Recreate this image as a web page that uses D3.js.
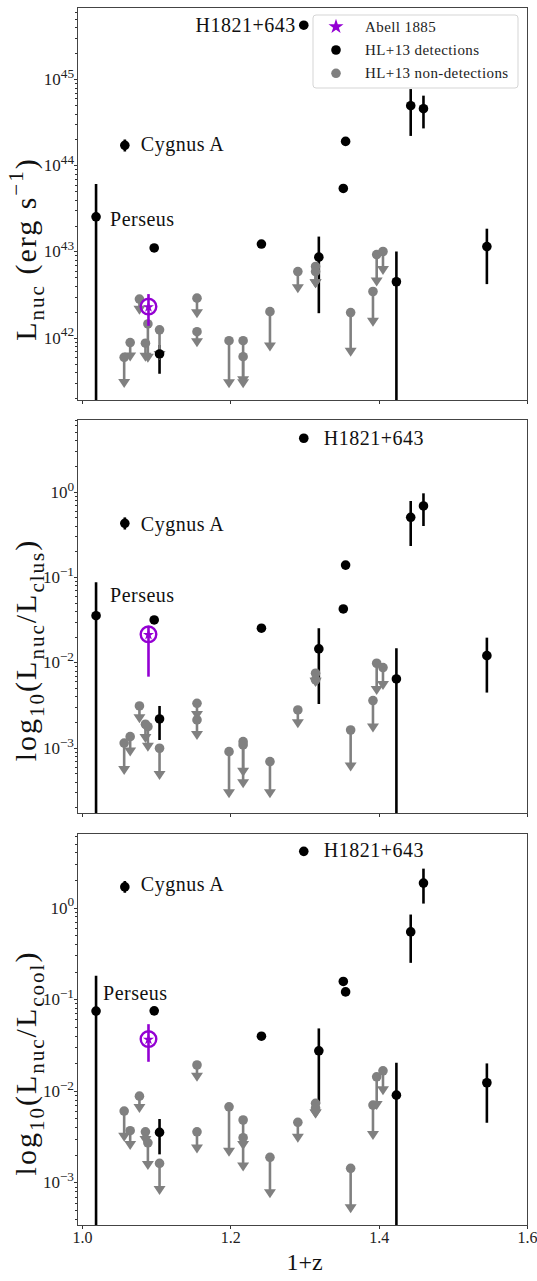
<!DOCTYPE html>
<meta charset="utf-8">
<style>
    body { margin: 0; background: #fff; }
    svg { font-family: "Liberation Serif", "Times New Roman", serif; }
    .axis path, .axis line { stroke: #333; shape-rendering: crispEdges; }
</style>
<body>
<script src="https://cdn.jsdelivr.net/npm/d3@7/dist/d3.min.js"></script>
<script>
    const width = 537, height = 1281;

    // ---- detections (HL+13), 1+z ----
    const detZ = [1.0189, 1.0577, 1.0973, 1.1045, 1.2419, 1.299, 1.3193, 1.3523, 1.3554, 1.4239, 1.4432, 1.4604, 1.5459];
    const detNames = ['Perseus', 'Cygnus A', '', '', '', 'H1821+643', '', '', '', '', '', '', ''];

    // L_nuc (erg/s)
    const lnucVal = [2.53e43, 1.71e44, 1.10e43, 6.45e41, 1.22e43, 4.25e45, 8.6e42, 5.4e43, 1.9e44, 4.45e42, 4.94e44, 4.56e44, 1.14e43];
    const lnucLo  = [1e40, 1.45e44, 1.10e43, 3.8e41, 1.22e43, 4.25e45, 1.92e42, 5.4e43, 1.9e44, 1e40, 2.2e44, 2.69e44, 4.18e42];
    const lnucHi  = [6.1e43, 2.0e44, 1.10e43, 8.2e41, 1.22e43, 4.25e45, 1.49e43, 5.4e43, 1.9e44, 1.0e43, 7.7e44, 6.46e44, 1.84e43];

    // L_nuc / L_clus
    const clusVal = [0.0352, 0.426, 0.0314, 0.00217, 0.0251, 4.23, 0.01436, 0.0422, 0.138, 0.00638, 0.501, 0.681, 0.01197];
    const clusLo  = [1e-5, 0.36, 0.0314, 0.00123, 0.0251, 4.23, 0.00325, 0.0422, 0.138, 1e-5, 0.231, 0.396, 0.00442];
    const clusHi  = [0.0867, 0.50, 0.0314, 0.00308, 0.0251, 4.23, 0.0251, 0.0422, 0.138, 0.01462, 0.778, 0.957, 0.01946];

    // L_nuc / L_cool
    const coolVal = [0.0740, 1.68, 0.0745, 0.00351, 0.0394, 4.11, 0.0273, 0.156, 0.120, 0.00895, 0.542, 1.85, 0.01222];
    const coolLo  = [1e-5, 1.45, 0.0745, 0.00202, 0.0394, 4.11, 0.00728, 0.156, 0.120, 1e-5, 0.249, 1.105, 0.00447];
    const coolHi  = [0.1795, 1.95, 0.0745, 0.00491, 0.0394, 4.11, 0.0479, 0.156, 0.120, 0.0202, 0.839, 2.66, 0.01987];

    // ---- Abell 1885 ----
    const a1885Z = 1.0896;
    const a1885 = [[2.29e42, 1.37e42, 3.2e42], [0.0213, 0.00679, 0.0267], [0.0366, 0.0207, 0.0533]];

    // ---- non-detections (upper limits), 1+z ----
    const ndZ = [1.0568, 1.0649, 1.0774, 1.0855, 1.0888, 1.1045, 1.155, 1.155, 1.1982, 1.2172, 1.2172, 1.2534, 1.291, 1.3149, 1.3149, 1.3622, 1.3923, 1.3973, 1.4058];
    const lnucLim = [5.9e41, 8.75e41, 2.8e42, 8.6e41, 1.44e42, 1.23e42, 2.87e42, 1.17e42, 9.2e41, 9.2e41, 6.0e41, 2.0e42, 5.85e42, 6.7e42, 5.85e42, 1.95e42, 3.43e42, 9.2e42, 1.0e43];
    const lnucTip = [2.6e41, 5.26e41, 1.84e42, 5.25e41, 5.1e41, 5.5e41, 1.68e42, 7.7e41, 2.58e41, 2.58e41, 2.8e41, 6.9e41, 3.28e42, 3.75e42, 3.75e42, 6.0e41, 1.34e42, 3.92e42, 5.35e42];
    const clusLim = [0.00113, 0.001345, 0.00308, 0.00188, 0.00176, 0.000984, 0.00331, 0.00211, 0.000898, 0.001175, 0.001076, 0.000686, 0.002767, 0.00745, 0.00621, 0.00161, 0.00356, 0.00975, 0.00867];
    const clusTip = [0.000478, 0.000785, 0.00193, 0.00113, 0.000898, 0.000419, 0.00211, 0.00123, 0.000255, 0.000457, 0.000334, 0.000255, 0.001687, 0.00519, 0.00519, 0.000524, 0.0015, 0.00415, 0.00474];
    const coolLim = [0.0060, 0.00366, 0.00873, 0.00356, 0.0027, 0.00161, 0.0191, 0.00356, 0.00668, 0.00479, 0.00307, 0.001875, 0.00452, 0.00728, 0.00646, 0.00142, 0.00697, 0.01419, 0.01649];
    const coolTip = [0.00277, 0.00225, 0.0057, 0.00255, 0.00136, 0.000726, 0.0125, 0.00207, 0.0019, 0.00225, 0.00131, 0.000668, 0.0027, 0.00499, 0.00499, 0.000459, 0.00289, 0.00615, 0.00895];

    const xTicks = [1.0, 1.2, 1.4, 1.6];
    const legendLabels = ['Abell 1885', 'HL+13 detections', 'HL+13 non-detections'];

    const purple = '#9400d3', grey = 'grey';

    // layout of the three panels
    const panels = [
        {top: 7, bottom: 400, dom: [10 ** 41.275, 10 ** 45.84], exps: [42, 43, 44, 45],
         val: lnucVal, lo: lnucLo, hi: lnucHi, lim: lnucLim, tip: lnucTip, a: a1885[0],
         label: [['L', 'n'], ['nuc', 'sub'], [' (erg s', 'n'], ['\u22121', 'sup'], [')', 'n']], labelY: 249,
         names: {'Perseus': [14, 9, 'start'], 'Cygnus A': [16, 6, 'start'], 'H1821+643': [-8, 7, 'end']}},
        {top: 419, bottom: 813, dom: [10 ** -3.766, 10 ** 0.852], exps: [-3, -2, -1, 0],
         val: clusVal, lo: clusLo, hi: clusHi, lim: clusLim, tip: clusTip, a: a1885[1],
         label: [['log', 'n'], ['10', 'sub'], ['(L', 'n'], ['nuc', 'sub'], ['/L', 'n'], ['clus', 'sub'], [')', 'n']], labelY: 650,
         names: {'Perseus': [14, -14, 'start'], 'Cygnus A': [16, 8, 'start'], 'H1821+643': [20, 7, 'start']}},
        {top: 833, bottom: 1225, dom: [10 ** -3.466, 10 ** 0.814], exps: [-3, -2, -1, 0],
         val: coolVal, lo: coolLo, hi: coolHi, lim: coolLim, tip: coolTip, a: a1885[2],
         label: [['log', 'n'], ['10', 'sub'], ['(L', 'n'], ['nuc', 'sub'], ['/L', 'n'], ['cool', 'sub'], [')', 'n']], labelY: 1063,
         names: {'Perseus': [7, -11, 'start'], 'Cygnus A': [16, 4, 'start'], 'H1821+643': [20, 6, 'start']}, showX: true}
    ];

    const svg = d3.select('body').append('svg')
        .attr('width', width)
        .attr('height', height);

    const x = d3.scaleLinear().domain([0.9932, 1.6]).range([77, 527]);

    // text with sub / superscripts
    function rich(text, parts, size, small) {
        small = small || 0.7;
        let shift = 0;
        parts.forEach(([s, t]) => {
            const target = t === 'sub' ? size * 0.28 : t === 'sup' ? -size * 0.42 : 0;
            text.append('tspan')
                .attr('dy', target - shift)
                .style('font-size', (t === 'n' ? size : size * small) + 'px')
                .text(s);
            shift = target;
        });
    }

    const star = d3.symbol().type(d3.symbolStar);

    panels.forEach((p, k) => {
        const y = d3.scaleLog().domain(p.dom).range([p.bottom, p.top]);
        const g = svg.append('g');

        const clipId = 'clip' + k;
        svg.append('clipPath').attr('id', clipId)
            .append('rect')
            .attr('x', x.range()[0]).attr('y', p.top)
            .attr('width', x.range()[1] - x.range()[0])
            .attr('height', p.bottom - p.top);

        // x axis
        const xa = g.append('g').attr('class', 'axis')
            .attr('transform', `translate(0,${p.bottom})`)
            .call(d3.axisBottom(x).tickValues(xTicks).tickSize(3.5).tickPadding(3)
                .tickFormat(p.showX ? d3.format('.1f') : ''));
        xa.select('.domain').remove();
        xa.selectAll('text').style('font-size', '16px').style('fill', '#222')
            .style('font-family', '"Liberation Serif", serif');

        // y axis: minor ticks
        const minor = [];
        for (let e = Math.floor(Math.log10(p.dom[0])); e <= Math.ceil(Math.log10(p.dom[1])); e++) {
            for (let m = 2; m <= 9; m++) {
                const v = m * 10 ** e;
                if (v >= p.dom[0] && v <= p.dom[1]) minor.push(v);
            }
        }
        const ya = g.append('g').attr('class', 'axis')
            .attr('transform', `translate(${x.range()[0]},0)`)
            .call(d3.axisLeft(y).tickValues(minor).tickSize(2).tickFormat(''));
        ya.select('.domain').remove();
        const yb = g.append('g').attr('class', 'axis')
            .attr('transform', `translate(${x.range()[0]},0)`)
            .call(d3.axisLeft(y).tickValues(p.exps.map(e => 10 ** e)).tickSize(3.5).tickFormat(''));
        yb.select('.domain').remove();

        // y tick labels 10^n
        p.exps.forEach(e => {
            const t = g.append('text')
                .attr('x', x.range()[0] - 3)
                .attr('y', y(10 ** e) + 6)
                .attr('text-anchor', 'end')
                .style('fill', '#222');
            rich(t, [['10', 'n'], [e < 0 ? '\u2212' + (-e) : String(e), 'sup']], 17, 0.78);
        });

        // y label
        const lab = g.append('text')
            .attr('transform', `translate(36,${p.labelY}) rotate(-90)`)
            .attr('text-anchor', 'middle')
            .style('letter-spacing', '2px')
            .style('fill', '#111');
        rich(lab, p.label, 30);

        const plot = g.append('g').attr('clip-path', `url(#${clipId})`);

        // detection error bars
        plot.selectAll('.derr').data(detZ).enter().append('line')
            .attr('x1', d => x(d)).attr('x2', d => x(d))
            .attr('y1', (d, i) => y(p.lo[i])).attr('y2', (d, i) => y(p.hi[i]))
            .style('stroke', '#000').style('stroke-width', 2.6);

        // upper limits
        plot.selectAll('.nline').data(ndZ).enter().append('line')
            .attr('x1', d => x(d)).attr('x2', d => x(d))
            .attr('y1', (d, i) => y(p.lim[i])).attr('y2', (d, i) => y(p.tip[i]) - 6)
            .style('stroke', grey).style('stroke-width', 2.6);
        plot.selectAll('.narrow').data(ndZ).enter().append('path')
            .attr('d', (d, i) => {
                const cx = x(d), ty = y(p.tip[i]);
                return `M${cx - 6},${ty - 9}L${cx + 6},${ty - 9}L${cx},${ty}Z`;
            })
            .style('fill', grey);
        plot.selectAll('.ndot').data(ndZ).enter().append('circle')
            .attr('cx', d => x(d)).attr('cy', (d, i) => y(p.lim[i]))
            .attr('r', 4.8).style('fill', grey);

        // detection markers
        plot.selectAll('.ddot').data(detZ).enter().append('circle')
            .attr('cx', d => x(d)).attr('cy', (d, i) => y(p.val[i]))
            .attr('r', 4.8).style('fill', '#000');

        // Abell 1885
        const ax = x(a1885Z), ay = y(p.a[0]);
        plot.append('line')
            .attr('x1', ax).attr('x2', ax)
            .attr('y1', y(p.a[1])).attr('y2', y(p.a[2]))
            .style('stroke', purple).style('stroke-width', 2.6);
        plot.append('circle').attr('cx', ax).attr('cy', ay).attr('r', 7.8)
            .style('fill', 'none').style('stroke', purple).style('stroke-width', 2.4);
        plot.append('path').attr('d', star.size(38)())
            .attr('transform', `translate(${ax},${ay + 0.5})`)
            .style('fill', purple);

        // object names
        detNames.forEach((n, i) => {
            if (!n) return;
            const o = p.names[n];
            g.append('text')
                .attr('x', x(detZ[i]) + o[0])
                .attr('y', y(p.val[i]) + o[1])
                .attr('text-anchor', o[2])
                .style('font-size', '20px')
                .style('letter-spacing', '0.5px')
                .style('fill', '#111')
                .text(n);
        });

        // frame
        g.append('rect')
            .attr('x', x.range()[0]).attr('y', p.top)
            .attr('width', x.range()[1] - x.range()[0])
            .attr('height', p.bottom - p.top)
            .style('fill', 'none').style('stroke', '#444').style('stroke-width', 1)
            .style('shape-rendering', 'crispEdges');

        // legend in the first panel
        if (k === 0) {
            const lg = g.append('g');
            lg.append('rect')
                .attr('x', 313).attr('y', 15).attr('width', 205).attr('height', 73).attr('rx', 3)
                .style('fill', 'white').style('fill-opacity', 0.8)
                .style('stroke', '#d5d5d5').style('stroke-width', 1);
            legendLabels.forEach((t, i) => {
                const ly = 26.7 + i * 23.3;
                if (i === 0) {
                    lg.append('path').attr('d', star.size(70)())
                        .attr('transform', `translate(336,${ly})`).style('fill', purple);
                } else {
                    lg.append('circle').attr('cx', 336).attr('cy', ly).attr('r', 4.8)
                        .style('fill', i === 1 ? '#000' : grey);
                }
                lg.append('text').attr('x', 365).attr('y', ly + 5)
                    .style('font-size', '15px').style('letter-spacing', '0.4px')
                    .style('fill', '#222').text(t);
            });
        }
    });

    // x label
    svg.append('text')
        .attr('x', x(1.3)).attr('y', 1270)
        .attr('text-anchor', 'middle')
        .style('font-size', '24px').style('fill', '#111')
        .text('1+z');
</script>
</body>
